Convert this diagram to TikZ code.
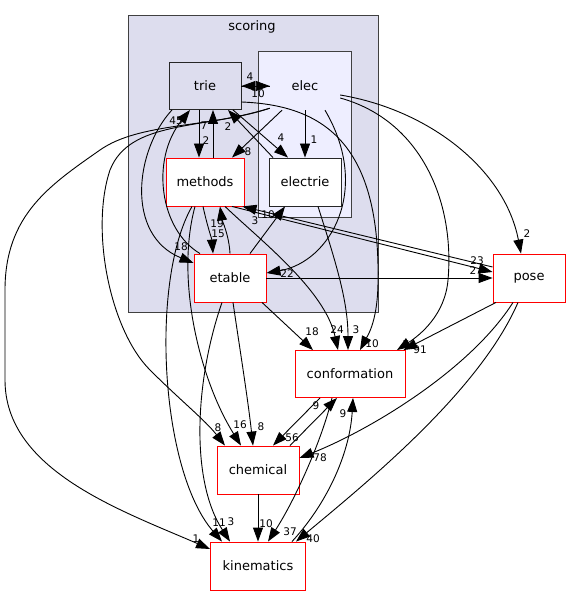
\documentclass[tikz,border=0pt]{standalone}
\usepackage{fontspec}
\setmainfont{DejaVu Sans}
\usetikzlibrary{arrows.meta,positioning}
\definecolor{clusterfill}{HTML}{DDDDEE}
\definecolor{elecfill}{HTML}{EEEEFF}
\definecolor{boxline}{HTML}{404040}
\tikzset{dir node/.style={rectangle,draw=red,fill=white,line width=0.9pt,minimum height=48pt,inner sep=0pt,font=\fontsize{13}{15}\selectfont},
         sub node/.style={dir node,draw=black!85},
         cluster box/.style={draw=boxline,line width=1pt},
         edge label/.style={rectangle,draw=none,fill=none,inner sep=0pt,font=\fontsize{10.5}{12}\selectfont},
         dep/.style={->,line width=0.9pt}
}
\begin{document}
\begin{tikzpicture}[x=1pt,y=-1pt,
>={Triangle[length=14pt,width=10pt]}]
\useasboundingbox (0,0) rectangle (571,596);
% clusters
\draw[cluster box,fill=clusterfill] (128,16) rectangle (378,312);
\node[edge label,font=\fontsize{13}{15}\selectfont] (scoring) at (252,27) {scoring};
\draw[cluster box,fill=elecfill] (258,52) rectangle (351,217);

\node [sub node,fill=clusterfill,minimum width=72pt,minimum height=47pt] (trie) at (205,86) {trie};
\node [rectangle,minimum width=70pt,minimum height=48pt,font=\fontsize{13}{15}\selectfont] (elec) at (305,86) {elec};
\node [dir node,minimum width=78pt] (methods) at (205,182) {methods};
\node [sub node,minimum width=72pt] (electrie) at (305,182) {electrie};
\node [dir node,minimum width=72pt] (etable) at (230,278) {etable};
\node [dir node,minimum width=72pt] (pose) at (529,278) {pose};
\node [dir node,minimum width=110pt,minimum height=47pt] (conformation) at (350,374) {conformation};
\node [dir node,minimum width=82pt] (chemical) at (258,470) {chemical};
\node [dir node,minimum width=95pt] (kinematics) at (258,566) {kinematics};

% inside scoring
\draw[dep] (trie.east) -- (elec.west);
\draw[dep] (elec.west) -- (trie.east);
\draw[dep] ([xshift=-6pt]trie.south) -- ([xshift=-6pt]methods.north);
\draw[dep] ([xshift=8pt]methods.north) -- ([xshift=8pt]trie.south);
\draw[dep] ([xshift=-30pt]etable.north) .. controls (160,230) and (150,160) .. ([xshift=-15pt]trie.south);
\draw[dep] ([xshift=-33pt]trie.south) .. controls (135,150) and (125,235) .. ([yshift=15pt]etable.west);
\draw[dep] ([xshift=-23pt]elec.south) -- ([xshift=27pt]methods.north);
\draw[dep] ([xshift=28pt]trie.south) -- ([xshift=-17pt]electrie.north);
\draw[dep] ([xshift=-32pt]electrie.north) -- ([xshift=23pt]trie.south);
\draw[dep] (elec.south) -- (electrie.north);
\draw[dep] ([xshift=20pt]elec.south) .. controls (372,190) and (330,262) .. ([yshift=5pt]etable.east);
\draw[dep] ([xshift=-2pt]methods.south) .. controls (207,225) and (212,240) .. ([xshift=-17pt]etable.north);
\draw[dep] (etable.north) .. controls (229,235) and (222,220) .. ([xshift=15pt]methods.south);
\draw[dep] ([xshift=20pt]etable.north) -- ([xshift=-20pt]electrie.south);

% out to pose and conformation
\draw[dep] ([yshift=-9pt]elec.east) .. controls (430,110) and (505,170) .. ([xshift=-8pt]pose.north);
\draw[dep] ([yshift=-12pt]elec.east) .. controls (420,120) and (455,200) .. (448,280) .. controls (445,315) and (420,335) .. ([xshift=47pt]conformation.north);
\draw[dep] ([yshift=-16pt]trie.east) .. controls (320,105) and (380,140) .. (378,280) .. controls (378,320) and (368,335) .. ([xshift=10pt]conformation.north);
\draw[dep] ([xshift=13pt]electrie.south) .. controls (335,260) and (348,300) .. ([xshift=-2pt]conformation.north);
\draw[dep] ([xshift=20pt]methods.south) .. controls (260,240) and (325,290) .. ([xshift=-12pt]conformation.north);
\draw[dep] ([xshift=32pt]etable.south) -- ([xshift=-37pt]conformation.north);
\draw[dep] ([xshift=27pt]methods.south) -- ([yshift=6pt]pose.west);
\draw[dep] ([yshift=11pt]pose.west) -- ([xshift=-2pt]methods.south east);
\draw[dep] (etable.east) -- (pose.west);

% lower part
\draw[dep] ([xshift=-33pt]pose.south) -- ([xshift=-2pt]conformation.north east);
\draw[dep] ([xshift=-16pt]pose.south) .. controls (470,370) and (370,430) .. ([yshift=12pt]chemical.east);
\draw[dep] ([xshift=-11pt]pose.south) .. controls (480,390) and (370,480) .. ([xshift=38pt]kinematics.north);
\draw[dep] ([xshift=-30pt]conformation.south) -- ([xshift=15pt]chemical.north);
\draw[dep] ([xshift=32pt]chemical.north) -- ([xshift=-13pt]conformation.south);
\draw[dep] ([xshift=-18pt]conformation.south) .. controls (322,440) and (295,500) .. ([xshift=10pt]kinematics.north);
\draw[dep] ([xshift=34pt]kinematics.north) .. controls (330,500) and (350,450) .. ([xshift=3pt]conformation.south);
\draw[dep] (chemical.south) -- (kinematics.north);
\draw[dep] ([xshift=-13pt]methods.south) .. controls (150,280) and (160,470) .. ([xshift=-36pt]kinematics.north);
\draw[dep] ([xshift=-10pt]methods.south) .. controls (175,280) and (200,380) .. ([xshift=-17pt]chemical.north);
\draw[dep] ([xshift=-8pt]etable.south) .. controls (195,380) and (190,480) .. ([xshift=-28pt]kinematics.north);
\draw[dep] ([xshift=3pt]etable.south) .. controls (240,350) and (248,400) .. ([xshift=-5pt]chemical.north);
\draw[dep] ([yshift=2pt]elec.south west) .. controls (200,130) and (130,120) .. (110,170) .. controls (90,230) and (110,330) .. (150,370) .. controls (180,400) and (205,420) .. ([xshift=-33pt]chemical.north);
\draw[dep] ([yshift=2pt]elec.south west) .. controls (210,128) and (140,122) .. (100,150) .. controls (50,185) and (5,215) .. (5,290) -- (5,380) .. controls (5,470) and (120,510) .. ([yshift=17pt]kinematics.west);

% edge labels
\node[edge label] (l1) at (250,77) {4};
\node[edge label] (l2) at (258,94) {10};
\node[edge label] (l3) at (206,141) {2};
\node[edge label] (l4) at (204,126) {7};
\node[edge label] (l5) at (176,121) {45};
\node[edge label] (l6) at (181,247) {18};
\node[edge label] (l7) at (248,152) {8};
\node[edge label] (l8) at (281,138) {4};
\node[edge label] (l9) at (228,127) {2};
\node[edge label] (l10) at (314,140) {1};
\node[edge label] (l11) at (287,274) {22};
\node[edge label] (l12) at (406,345) {7};
\node[edge label] (l13) at (527,234) {2};
\node[edge label] (l14) at (372,344) {10};
\node[edge label] (l15) at (356,330) {3};
\node[edge label] (l16) at (337,330) {24};
\node[edge label] (l17) at (312,332) {18};
\node[edge label] (l18) at (218,234) {15};
\node[edge label] (l19) at (217,224) {19};
\node[edge label] (l20) at (268,215) {10};
\node[edge label] (l21) at (477,261) {23};
\node[edge label] (l22) at (255,221) {3};
\node[edge label] (l23) at (473,271) {2};
\node[edge label] (l24) at (420,350) {91};
\node[edge label] (l25) at (320,458) {78};
\node[edge label] (l26) at (313,539) {40};
\node[edge label] (l27) at (292,438) {56};
\node[edge label] (l28) at (316,406) {9};
\node[edge label] (l29) at (290,532) {37};
\node[edge label] (l30) at (343,414) {9};
\node[edge label] (l31) at (266,524) {10};
\node[edge label] (l32) at (219,523) {11};
\node[edge label] (l33) at (231,522) {3};
\node[edge label] (l34) at (240,425) {16};
\node[edge label] (l35) at (261,427) {8};
\node[edge label] (l36) at (218,428) {8};
\node[edge label] (l37) at (196,539) {1};
\end{tikzpicture}
\end{document}
